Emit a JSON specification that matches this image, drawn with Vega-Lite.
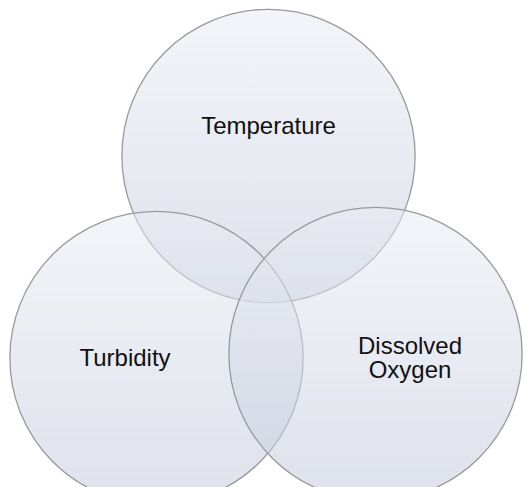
{
  "$schema": "https://vega.github.io/schema/vega-lite/v6.json",
  "width": 525,
  "height": 487,
  "padding": 0,
  "autosize": {"type": "none"},
  "background": "white",
  "config": {"view": {"stroke": null}},
  "layer": [
    {
      "data": {"values": [
        {"set": "Temperature", "cx": 268.5, "cy": 156},
        {"set": "Turbidity", "cx": 156.5, "cy": 358},
        {"set": "Dissolved Oxygen", "cx": 375.5, "cy": 354}
      ]},
      "mark": {
        "type": "point",
        "shape": "circle",
        "filled": true,
        "size": 86000,
        "fill": {"gradient": "linear", "x1": 0, "y1": 0, "x2": 0, "y2": 1,
          "stops": [{"offset": 0, "color": "#e9ecf4"}, {"offset": 1, "color": "#c3c9db"}]},
        "fillOpacity": 0.55,
        "stroke": "#9a9a9a",
        "strokeWidth": 1.3,
        "strokeOpacity": 1,
        "opacity": 1
      },
      "encoding": {
        "x": {"field": "cx", "type": "quantitative", "scale": {"domain": [0, 525], "nice": false, "zero": false}, "axis": null},
        "y": {"field": "cy", "type": "quantitative", "scale": {"domain": [487, 0], "nice": false, "zero": false}, "axis": null}
      }
    },
    {
      "data": {"values": [
        {"label": "Temperature", "lx": 268.5, "ly": 134},
        {"label": "Turbidity", "lx": 125, "ly": 366},
        {"label": "Dissolved\nOxygen", "lx": 410, "ly": 354}
      ]},
      "mark": {
        "type": "text",
        "font": "Liberation Sans",
        "fontSize": 24,
        "color": "#111111",
        "align": "center",
        "baseline": "alphabetic",
        "lineBreak": "\n",
        "lineHeight": 24
      },
      "encoding": {
        "x": {"field": "lx", "type": "quantitative", "scale": {"domain": [0, 525], "nice": false, "zero": false}, "axis": null},
        "y": {"field": "ly", "type": "quantitative", "scale": {"domain": [487, 0], "nice": false, "zero": false}, "axis": null},
        "text": {"field": "label", "type": "nominal"}
      }
    }
  ]
}
